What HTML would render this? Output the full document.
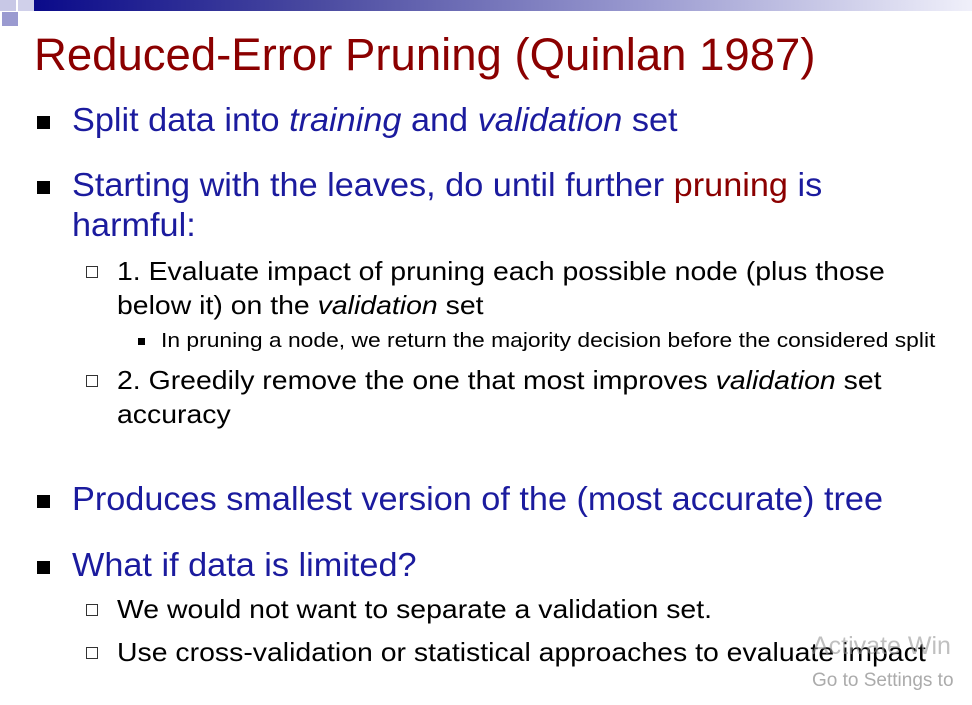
<!DOCTYPE html>
<html><head><meta charset="utf-8"><style>
body{margin:0;width:972px;height:705px;background:#fff;position:relative;overflow:hidden;font-family:"Liberation Sans",Arial,sans-serif}
.a{position:absolute;white-space:nowrap;transform-origin:0 0}
.l1{color:#1b1b9e;font-size:33px;transform:scaleX(1.038)}
.l2{color:#000;font-size:26px;transform:scaleX(1.093)}
.l3{color:#000;font-size:20.5px;transform:scaleX(1.114)}
.sq{position:absolute;background:#000}
.box{position:absolute;width:12px;height:12px;border:1px solid #333;box-sizing:border-box}
</style></head><body>
<div class="a" style="left:34px;top:0;width:938px;height:11px;background:linear-gradient(to right,#0a0a8a,#4a4aa0 30%,#9a9ad0 65%,#f0f0fa)"></div>
<div class="a" style="left:0;top:0;width:16px;height:11px;background:#c8c8e6"></div>
<div class="a" style="left:18px;top:0;width:16px;height:11px;background:#d0d0ea"></div>
<div class="a" style="left:2px;top:12px;width:16px;height:14px;background:#9a9ad0"></div>
<div class="a" style="left:34px;top:29px;font-size:45.5px;color:#8b0000">Reduced-Error Pruning (Quinlan 1987)</div>

<div class="sq" style="left:37px;top:116px;width:13px;height:13px"></div>
<div class="a l1" style="left:72px;top:101px">Split data into <i>training</i> and <i>validation</i> set</div>

<div class="sq" style="left:37px;top:181px;width:13px;height:13px"></div>
<div class="a l1" style="left:72px;top:166px">Starting with the leaves, do until further <span style="color:#8b0000">pruning</span> is</div>
<div class="a l1" style="left:72px;top:206px">harmful:</div>

<div class="box" style="left:86px;top:266px"></div>
<div class="a l2" style="left:117px;top:256px">1. Evaluate impact of pruning each possible node (plus those</div>
<div class="a l2" style="left:117px;top:290px">below it) on the <i>validation</i> set</div>
<div class="sq" style="left:138px;top:338px;width:7px;height:7px"></div>
<div class="a l3" style="left:161px;top:329px">In pruning a node, we return the majority decision before the considered split</div>

<div class="box" style="left:86px;top:375px"></div>
<div class="a l2" style="left:117px;top:365px">2. Greedily remove the one that most improves <i>validation</i> set</div>
<div class="a l2" style="left:117px;top:399px">accuracy</div>

<div class="sq" style="left:37px;top:495px;width:13px;height:13px"></div>
<div class="a l1" style="left:72px;top:480px">Produces smallest version of the (most accurate) tree</div>

<div class="sq" style="left:37px;top:561px;width:13px;height:13px"></div>
<div class="a l1" style="left:72px;top:546px">What if data is limited?</div>

<div class="box" style="left:86px;top:604px"></div>
<div class="a l2" style="left:117px;top:594px">We would not want to separate a validation set.</div>
<div class="box" style="left:86px;top:647px"></div>
<div class="a l2" style="left:117px;top:637px">Use cross-validation or statistical approaches to evaluate impact</div>

<div class="a" style="left:812px;top:632px;font-size:25px;color:rgba(150,150,150,0.6)">Activate Win</div>
<div class="a" style="left:812px;top:670px;font-size:19px;color:rgba(150,150,150,0.8)">Go to Settings to</div>
</body></html>
